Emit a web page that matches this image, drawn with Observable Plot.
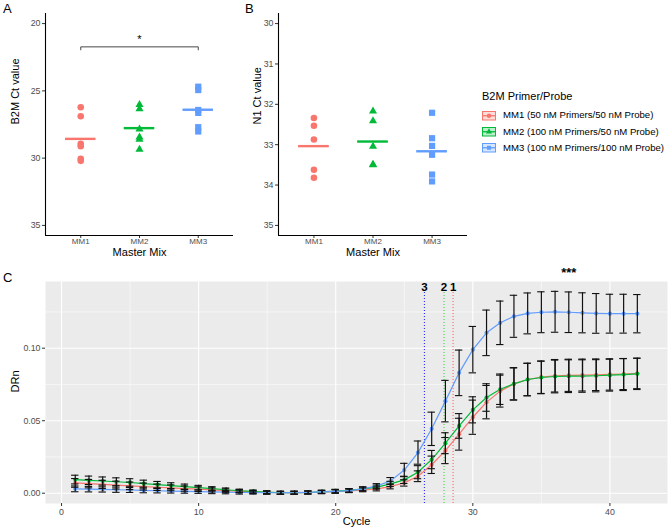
<!DOCTYPE html>
<html><head><meta charset="utf-8">
<script src="https://cdn.jsdelivr.net/npm/d3@7"></script>
<script src="https://cdn.jsdelivr.net/npm/@observablehq/plot@0.6"></script>
<style>
body{margin:0;background:#fff;font-family:"Liberation Sans",Arial,sans-serif;}
#wrap{position:relative;width:669px;height:530px;overflow:hidden;background:#fff;}
.pl{position:absolute;}
.letter{position:absolute;font-size:13px;color:#000;line-height:1;}
.lg{position:absolute;white-space:nowrap;color:#000;line-height:1;}
</style></head><body><div id="wrap"></div>
<script>
// ---------- data ----------
const mixes = ["MM1", "MM2", "MM3"];
const mixLabels = ["MM1 (50 nM Primers/50 nM Probe)", "MM2 (100 nM Primers/50 nM Probe)", "MM3 (100 nM Primers/100 nM Probe)"];
const mixColors = ["#F8766D", "#00BA38", "#619CFF"];
const mixSymbols = ["circle", "triangle", "square"];
const legendTitle = "B2M Primer/Probe";

// Panel A: B2M Ct values
const b2mMM1 = [26.22, 26.89, 28.94, 29.11, 30.05, 30.2];
const b2mMM2 = [26.02, 26.35, 27.85, 28.45, 28.6, 29.35];
const b2mMM3 = [24.69, 24.94, 26.42, 26.64, 27.7, 28.02];
const b2mTicks = [20, 25, 30, 35];
const sigPairA = ["MM1", "MM3"];
const sigLevelA = 21.73;
const sigLabelA = "*";

// Panel B: N1 Ct values
const n1MM1 = [32.34, 32.53, 32.87, 33.62, 33.82];
const n1MM2 = [32.17, 32.41, 33.04, 33.49, 33.5];
const n1MM3 = [32.21, 32.84, 33.03, 33.25, 33.74, 33.91];
const n1Ticks = [30, 31, 32, 33, 34, 35];

// Panel C: amplification curves (DRn by cycle)
const cycles = d3.range(1, 43);
const drnMM1 = [0.0071,0.0066,0.0061,0.0056,0.0051,0.0046,0.0041,0.0037,0.0032,0.0028,0.0023,0.0018,0.0014,0.0009,0.0005,0.0003,0.0003,0.0004,0.0008,0.0012,0.0016,0.0023,0.0030,0.0046,0.0071,0.0117,0.0196,0.0294,0.0407,0.0524,0.0628,0.0704,0.0754,0.0784,0.0800,0.0810,0.0813,0.0815,0.0817,0.0819,0.0822,0.0826];
const sdMM1 = [0.0030,0.0029,0.0028,0.0027,0.0026,0.0024,0.0022,0.0020,0.0018,0.0016,0.0014,0.0012,0.0011,0.0010,0.0010,0.0010,0.0010,0.0010,0.0011,0.0012,0.0012,0.0013,0.0014,0.0016,0.0022,0.0037,0.0060,0.0090,0.0110,0.0118,0.0115,0.0110,0.0112,0.0112,0.0112,0.0112,0.0111,0.0110,0.0109,0.0108,0.0107,0.0105];
const drnMM2 = [0.0094,0.0089,0.0084,0.0079,0.0074,0.0066,0.0059,0.0052,0.0045,0.0038,0.0031,0.0024,0.0017,0.0012,0.0007,0.0003,0.0003,0.0005,0.0009,0.0015,0.0020,0.0030,0.0042,0.0064,0.0092,0.0145,0.0232,0.0345,0.0464,0.0575,0.0660,0.0717,0.0754,0.0784,0.0798,0.0805,0.0807,0.0808,0.0810,0.0814,0.0818,0.0823];
const sdMM2 = [0.0030,0.0029,0.0028,0.0027,0.0026,0.0024,0.0022,0.0020,0.0018,0.0016,0.0014,0.0012,0.0011,0.0010,0.0010,0.0010,0.0010,0.0010,0.0011,0.0012,0.0012,0.0013,0.0014,0.0018,0.0025,0.0045,0.0063,0.0072,0.0085,0.0090,0.0095,0.0105,0.0110,0.0112,0.0112,0.0113,0.0113,0.0112,0.0111,0.0110,0.0110,0.0108];
const drnMM3 = [0.0030,0.0028,0.0026,0.0024,0.0022,0.0019,0.0017,0.0015,0.0013,0.0011,0.0009,0.0007,0.0005,0.0004,0.0003,0.0003,0.0004,0.0006,0.0009,0.0013,0.0018,0.0030,0.0050,0.0085,0.0160,0.0280,0.0444,0.0635,0.0830,0.0990,0.1106,0.1175,0.1220,0.1240,0.1248,0.1251,0.1248,0.1244,0.1240,0.1238,0.1238,0.1238];
const sdMM3 = [0.0020,0.0019,0.0018,0.0018,0.0017,0.0016,0.0015,0.0014,0.0013,0.0012,0.0012,0.0011,0.0011,0.0010,0.0010,0.0010,0.0010,0.0010,0.0011,0.0012,0.0013,0.0014,0.0016,0.0023,0.0046,0.0080,0.0115,0.0143,0.0157,0.0160,0.0157,0.0150,0.0145,0.0141,0.0141,0.0141,0.0140,0.0138,0.0137,0.0134,0.0134,0.0132];
const ctValues = [26.47, 27.9, 28.56];
const ctLabels = ["3", "2", "1"];
const ctColors = ["#2b2bff", "#3ed83e", "#ff6262"];
const cycleMajor = [0, 10, 20, 30, 40];
const cycleMinor = [5, 15, 25, 35];
const drnMajor = [0, 0.05, 0.10];
const drnMinor = [0.025, 0.075, 0.125];
const sigCycleC = 37;
const sigLabelC = "***";

// ---------- build ----------
const FONT = "'Liberation Sans', Arial, Helvetica, sans-serif";
const wrap = document.getElementById("wrap");
function place(node, left, top) {
  node.classList.add("pl");
  node.style.left = left + "px";
  node.style.top = top + "px";
  wrap.appendChild(node);
}
function addDiv(cls, text, css) {
  const d = document.createElement("div");
  d.className = cls; d.textContent = text;
  Object.assign(d.style, css);
  wrap.appendChild(d);
  return d;
}

const dotR = [3.3, 3.0, 3.5];

function ctPanel(arrays, yDomain, yTicks, yTitle, width, marginLeft, titleDx, extra) {
  const xDomain = [0.4, 3.6];
  const rows = arrays.flatMap((arr, i) => arr.map(v => ({mix: mixes[i], idx: i + 1, ct: v})));
  const means = arrays.map((arr, i) => ({mix: mixes[i], idx: i + 1, mean: d3.mean(arr)}));
  return Plot.plot({
    width, height: 262, marginLeft, marginRight: 3, marginTop: 13, marginBottom: 27,
    style: {fontFamily: FONT, background: "transparent", overflow: "visible"},
    x: {domain: xDomain, axis: null, label: null},
    y: {domain: yDomain, reverse: true, axis: null, label: null},
    color: {domain: mixes, range: mixColors},
    marks: [
      Plot.axisX({ticks: [1, 2, 3], tickFormat: i => mixes[i - 1], tickSize: 3, tickPadding: 0, fontSize: 8, color: "#4d4d4d", stroke: "#333", label: null}),
      Plot.axisY({ticks: yTicks, tickFormat: d => String(d), tickSize: 3, tickPadding: 2, fontSize: 8.8, color: "#4d4d4d", stroke: "#333", label: null}),
      Plot.ruleX([xDomain[0]], {stroke: "#000", strokeWidth: 1.1}),
      Plot.ruleY([yDomain[1]], {stroke: "#000", strokeWidth: 1.1}),
      ...arrays.map((arr, i) => Plot.dot(rows.filter(d => d.mix === mixes[i]), {x: "idx", y: "ct", fill: "mix", symbol: () => mixSymbols[i], r: dotR[i]})),
      Plot.ruleY(means, {y: "mean", x1: d => d.idx - 0.26, x2: d => d.idx + 0.26, stroke: "mix", strokeWidth: 2.4}),
      ...(extra || []),
      Plot.text(["Master Mix"], {frameAnchor: "bottom", dy: 20.5, text: d => d, fontSize: 11, fill: "#000"}),
      Plot.text([yTitle], {frameAnchor: "left", dx: titleDx, rotate: -90, text: d => d, fontSize: 11, fill: "#000"})
    ]
  });
}

// significance bracket in A
const i1 = mixes.indexOf(sigPairA[0]) + 1, i2 = mixes.indexOf(sigPairA[1]) + 1;
const bracket = [{x: i1, y: sigLevelA + 0.22}, {x: i1, y: sigLevelA}, {x: i2, y: sigLevelA}, {x: i2, y: sigLevelA + 0.22}];
const plotA = ctPanel([b2mMM1, b2mMM2, b2mMM3], [19.25, 35.75], b2mTicks, "B2M Ct value", 236, 45, -30.5, [
  Plot.line(bracket, {x: "x", y: "y", stroke: "#333", strokeWidth: 0.9}),
  Plot.text([sigLabelA], {x: (i1 + i2) / 2, y: sigLevelA - 0.3, text: d => d, fontSize: 11, lineAnchor: "bottom", fill: "#000"})
]);
place(plotA, 0, 0);

const plotB = ctPanel([n1MM1, n1MM2, n1MM3], [29.75, 35.25], n1Ticks, "N1 Ct value", 230, 38, -21);
place(plotB, 240, 0);

// Panel C
const drn = [drnMM1, drnMM2, drnMM3], sds = [sdMM1, sdMM2, sdMM3];
const curves = mixes.flatMap((m, i) => cycles.map((c, j) => ({mix: m, cycle: c, drn: drn[i][j], sd: sds[i][j]})));
const ctRows = ctValues.map((v, i) => ({ct: v, label: ctLabels[i], color: ctColors[i]}));
const capW = 0.27;
const plotC = Plot.plot({
  width: 669, height: 268, marginLeft: 45, marginRight: 2, marginTop: 19, marginBottom: 27,
  style: {fontFamily: FONT, background: "transparent", overflow: "visible"},
  x: {domain: [-1.17, 44.2], axis: null, label: null},
  y: {domain: [-0.0071, 0.146], axis: null, label: null},
  color: {domain: mixes, range: mixColors},
  marks: [
    Plot.frame({fill: "#EBEBEB", stroke: null}),
    Plot.ruleY(drnMinor, {stroke: "#fff", strokeWidth: 0.55}),
    Plot.ruleX(cycleMinor, {stroke: "#fff", strokeWidth: 0.55}),
    Plot.ruleY(drnMajor, {stroke: "#fff", strokeWidth: 1.1}),
    Plot.ruleX(cycleMajor, {stroke: "#fff", strokeWidth: 1.1}),
    Plot.axisX({ticks: cycleMajor, tickSize: 3, tickPadding: 2, fontSize: 8.8, color: "#4d4d4d", stroke: "#333", label: null}),
    Plot.axisY({ticks: drnMajor, tickFormat: d3.format(".2f"), tickSize: 3, tickPadding: 2, fontSize: 8.8, color: "#4d4d4d", stroke: "#333", label: null}),
    Plot.ruleX(ctRows, {x: "ct", stroke: d => d.color, strokeWidth: 1.1, strokeDasharray: "1,2", insetTop: 11}),
    Plot.text(ctRows, {x: "ct", text: "label", frameAnchor: "top", dy: 1.5, fontSize: 11.5, fontWeight: "bold", fill: "#000"}),
    Plot.line(curves, {x: "cycle", y: "drn", z: "mix", stroke: "mix", strokeWidth: 1.2}),
    Plot.dot(curves, {x: "cycle", y: "drn", fill: "mix", r: 2.1}),
    Plot.ruleX(curves, {x: "cycle", y1: d => d.drn - d.sd, y2: d => d.drn + d.sd, stroke: "#111", strokeWidth: 1.2}),
    Plot.ruleY(curves, {y: d => d.drn + d.sd, x1: d => d.cycle - capW, x2: d => d.cycle + capW, stroke: "#111", strokeWidth: 1.1}),
    Plot.ruleY(curves, {y: d => d.drn - d.sd, x1: d => d.cycle - capW, x2: d => d.cycle + capW, stroke: "#111", strokeWidth: 1.1}),
    Plot.text([sigLabelC], {x: sigCycleC, frameAnchor: "top", dy: -14, text: d => d, fontSize: 13, fontWeight: "bold", fill: "#000"}),
    Plot.text(["Cycle"], {frameAnchor: "bottom", dy: 21, text: d => d, fontSize: 11, fill: "#000"}),
    Plot.text(["DRn"], {frameAnchor: "left", dx: -30, rotate: -90, text: d => d, fontSize: 11, fill: "#000"})
  ]
});
place(plotC, 0, 262);

// panel letters
addDiv("letter", "A", {left: "3px", top: "2px"});
addDiv("letter", "B", {left: "245px", top: "2px"});
addDiv("letter", "C", {left: "3px", top: "271px"});

// legend
addDiv("lg", legendTitle, {left: "482px", top: "91px", fontSize: "11px"});
const ns = "http://www.w3.org/2000/svg";
mixes.forEach((m, i) => {
  const cy = 115.7 + i * 16.3;
  const svg = document.createElementNS(ns, "svg");
  svg.setAttribute("width", 16); svg.setAttribute("height", 12);
  svg.style.position = "absolute";
  svg.style.left = "481px"; svg.style.top = (cy - 6) + "px";
  const rect = document.createElementNS(ns, "rect");
  rect.setAttribute("x", 1.5); rect.setAttribute("y", 1.5); rect.setAttribute("width", 13); rect.setAttribute("height", 8.5);
  rect.setAttribute("fill", mixColors[i]); rect.setAttribute("fill-opacity", 0.25);
  rect.setAttribute("stroke", mixColors[i]); rect.setAttribute("stroke-width", 1);
  svg.appendChild(rect);
  const ln = document.createElementNS(ns, "line");
  ln.setAttribute("x1", 1.5); ln.setAttribute("x2", 14.5); ln.setAttribute("y1", 5.75); ln.setAttribute("y2", 5.75);
  ln.setAttribute("stroke", mixColors[i]); ln.setAttribute("stroke-width", 1.3);
  svg.appendChild(ln);
  const sym = document.createElementNS(ns, "path");
  const st = {circle: d3.symbolCircle, triangle: d3.symbolTriangle, square: d3.symbolSquare}[mixSymbols[i]];
  sym.setAttribute("d", d3.symbol(st, 16)());
  sym.setAttribute("transform", "translate(8,5.75)");
  sym.setAttribute("fill", mixColors[i]);
  svg.appendChild(sym);
  wrap.appendChild(svg);
  addDiv("lg", mixLabels[i], {left: "503px", top: (cy - 5.5) + "px", fontSize: "9.6px"});
});
</script></body></html>
